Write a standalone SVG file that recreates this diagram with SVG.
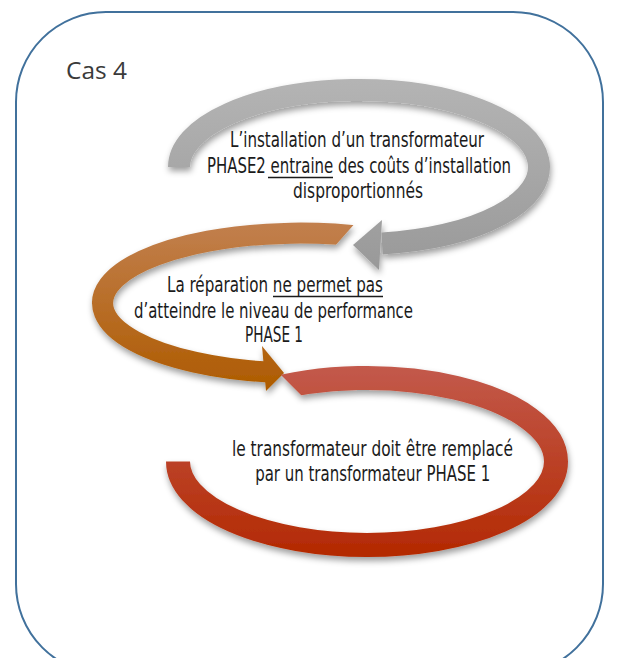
<svg xmlns="http://www.w3.org/2000/svg" width="620" height="658" viewBox="0 0 620 658">
<style>
.lbl{font-family:"Liberation Sans Narrow","DejaVu Sans Condensed","DejaVu Sans",sans-serif;font-size:20.5px;fill:#1b1b1b;text-anchor:middle}
.ul{stroke:#1b1b1b;stroke-width:1.4}
.band{fill:none}
</style>
<defs>
<linearGradient id="gGray" gradientUnits="userSpaceOnUse" x1="0" y1="80" x2="0" y2="270"><stop offset="0" stop-color="#b4b4b4"/><stop offset="1" stop-color="#999999"/></linearGradient>
<linearGradient id="gOrange" gradientUnits="userSpaceOnUse" x1="0" y1="220" x2="0" y2="390"><stop offset="0" stop-color="#c2804f"/><stop offset="1" stop-color="#ae5b00"/></linearGradient>
<linearGradient id="gRed" gradientUnits="userSpaceOnUse" x1="0" y1="365" x2="0" y2="560"><stop offset="0" stop-color="#c35a4c"/><stop offset="1" stop-color="#b32800"/></linearGradient>
<filter id="sh" x="-10%" y="-10%" width="120%" height="130%"><feDropShadow dx="1" dy="4" stdDeviation="3" flood-color="#000" flood-opacity="0.38"/></filter>
<clipPath id="clipOrange"><polygon points="0,0 553,0 287,300 620,300 620,658 0,658"/></clipPath>
<clipPath id="clipRed"><path clip-rule="evenodd" d="M0 0H620V658H0Z M236 330L326 420L240 420L200 330Z"/></clipPath>
</defs>
<rect id="frame" x="16" y="12" width="587" height="662" rx="90" ry="90" fill="#fff" stroke="#41719c" stroke-width="2"/>
<g id="title"><text x="66" y="79" font-family="'Open Sans','Noto Sans','Liberation Sans',sans-serif" font-size="24.5" fill="#3a3a3a" textLength="61" lengthAdjust="spacingAndGlyphs">Cas 4</text></g>
<g id="node-gray">
<g filter="url(#sh)">
<path class="band" d="M179 167 A180 77 0 1 1 382 243.4" stroke="url(#gGray)" stroke-width="22"/>
<polygon points="382,220 353,245 379,270" fill="url(#gGray)"/>
</g>
<text class="lbl" x="357" y="147" textLength="254" lengthAdjust="spacingAndGlyphs">L’installation d’un transformateur</text>
<text class="lbl" x="359" y="172.5" textLength="304" lengthAdjust="spacingAndGlyphs">PHASE2 entraine des coûts d’installation</text>
<line class="ul" x1="268" y1="177.5" x2="333" y2="177.5"/>
<text class="lbl" x="358" y="198" textLength="130" lengthAdjust="spacingAndGlyphs">disproportionnés</text>
</g>
<g id="node-orange">
<g filter="url(#sh)">
<g clip-path="url(#clipOrange)">
<path class="band" d="M367.7 237.2 A198 70 0 1 0 268 372.1" stroke="url(#gOrange)" stroke-width="21"/>
</g>
<polygon points="262,346 284,373 266,391" fill="url(#gOrange)"/>
</g>
<text class="lbl" x="275" y="292" textLength="216" lengthAdjust="spacingAndGlyphs">La réparation ne permet pas</text>
<line class="ul" x1="273" y1="296.5" x2="383" y2="296.5"/>
<text class="lbl" x="273.5" y="317.5" textLength="279" lengthAdjust="spacingAndGlyphs">d’atteindre le niveau de performance</text>
<text class="lbl" x="274" y="342" textLength="58" lengthAdjust="spacingAndGlyphs">PHASE 1</text>
</g>
<g id="node-red">
<g filter="url(#sh)">
<g clip-path="url(#clipRed)">
<path class="band" d="M262 392 A189 83.5 0 0 1 556 461.5 A189 83.5 0 0 1 178 461.5" stroke="url(#gRed)" stroke-width="24"/>
</g>
</g>
<text class="lbl" x="372.5" y="455.5" textLength="281" lengthAdjust="spacingAndGlyphs">le transformateur doit être remplacé</text>
<text class="lbl" x="372.7" y="480.5" textLength="235" lengthAdjust="spacingAndGlyphs">par un transformateur PHASE 1</text>
</g>
<g id="connectors"/>
</svg>
